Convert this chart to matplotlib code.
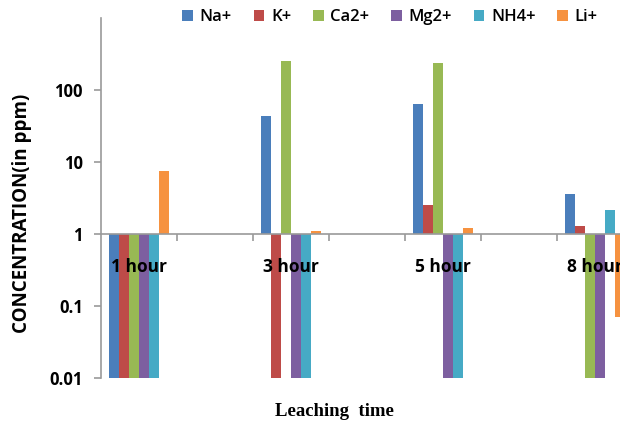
import numpy as np
import matplotlib.pyplot as plt
from matplotlib.ticker import FixedLocator, NullLocator

# leaching data, concentration in ppm (0.01 = below detection, drawn to the axis floor)
hours = ['1 hour', '3 hour', '5 hour', '8 hour']
na = [0.01, 43, 63, 3.6]
k = [0.01, 0.01, 2.5, 1.3]
ca = [0.01, 256, 240, 0.01]
mg = [0.01, 0.01, 0.01, 0.01]
nh4 = [0.01, 0.01, 0.01, 2.15]
li = [7.4, 1.1, 1.2, 0.071]

series = [('Na+', na, '#4A7EBB'), ('K+', k, '#BE4B48'), ('Ca2+', ca, '#98B954'),
          ('Mg2+', mg, '#7D5FA0'), ('NH4+', nh4, '#46AAC5'), ('Li+', li, '#F69240')]

fig = plt.figure(figsize=(6.2, 4.28), dpi=100)
# plot area runs past the right edge (8 category slots, every other one used)
ax = fig.add_axes([101 / 620, 1 - 378 / 428, 608 / 620, 360 / 428])

x = np.arange(len(hours)) * 2
w = 0.132
for i, (name, vals, col) in enumerate(series):
    v = np.array(vals)
    ax.bar(x + (i - 2.5) * w, v - 1, bottom=1, width=w, color=col, label=name,
           align='center', edgecolor='none')

ax.set_yscale('log')
ax.set_ylim(0.01, 1000)
ax.set_xlim(-0.5, 7.5)

ax.yaxis.set_major_locator(FixedLocator([0.01, 0.1, 1, 10, 100]))
ax.yaxis.set_minor_locator(NullLocator())
ax.set_yticklabels(['0.01', '0.1', '1', '10', '100'])

ax.spines['top'].set_visible(False)
ax.spines['right'].set_visible(False)
ax.spines['bottom'].set_position(('data', 1))
for s in ('left', 'bottom'):
    ax.spines[s].set_color('#9A9A9A')
    ax.spines[s].set_linewidth(1.2)

ax.set_xticks(x)
ax.set_xticklabels(hours, fontsize=12.5, fontweight='bold', family='Open Sans')
ax.set_xticks(np.arange(0.5, 8.5, 1), minor=True)
ax.tick_params(axis='x', which='major', length=0, pad=17)
ax.tick_params(axis='x', which='minor', length=5, color='#9A9A9A', width=1.2)
ax.tick_params(axis='y', length=5, color='#9A9A9A', width=1.2, pad=8)
for t in ax.get_yticklabels():
    t.set_fontsize(12)
    t.set_fontweight('bold')
    t.set_family('Open Sans')

fig.text(22 / 620, 1 - 213 / 428, 'CONCENTRATION(in ppm)', rotation=90, ha='center',
         va='center', fontsize=13.5, fontweight='bold', family='Open Sans')
fig.text(334 / 620, 1 - 412 / 428, 'Leaching  time', ha='center', va='center',
         fontsize=13.5, fontweight='bold', family='Liberation Serif')

fig.legend(loc='center', bbox_to_anchor=(390 / 620, 1 - 17 / 428), ncol=6, frameon=False,
           handlelength=0.65, handleheight=0.65, handletextpad=0.4, columnspacing=1.3,
           prop={'family': 'Open Sans', 'size': 12, 'weight': 'semibold'})

fig.savefig('out.png', dpi=100)
